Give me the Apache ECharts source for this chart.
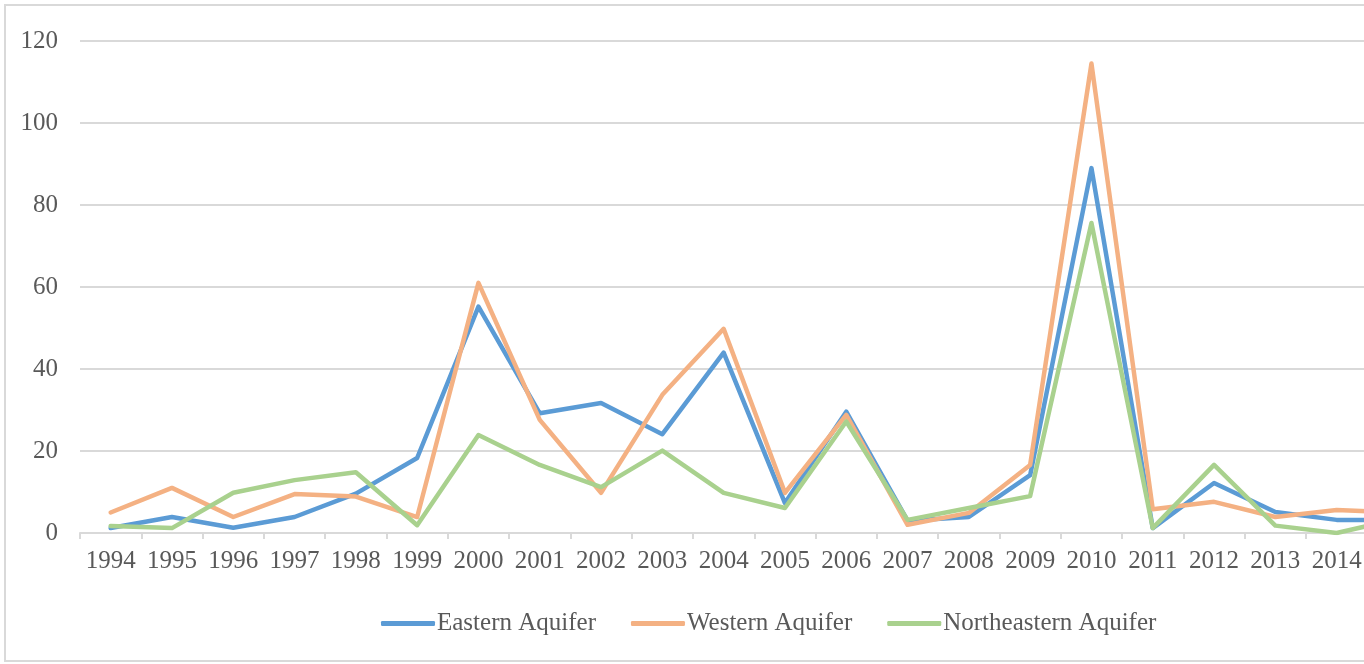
<!DOCTYPE html>
<html>
<head>
<meta charset="utf-8">
<title>Aquifer chart</title>
<script src="https://cdn.jsdelivr.net/npm/echarts@6/dist/echarts.min.js"></script>
<style>
html, body {
    margin: 0;
    padding: 0;
    overflow: hidden;
    background: #fff;
}
.com-chart {
    width: 1540px;
    height: 664px;
}
</style>
</head>
<body>
<div class="com-chart" id="chart_ref"></div>
<script>
// years on the x axis (the chart runs on past the right edge of the picture)
const years = ['1994', '1995', '1996', '1997', '1998', '1999', '2000', '2001', '2002', '2003', '2004',
    '2005', '2006', '2007', '2008', '2009', '2010', '2011', '2012', '2013', '2014', '2015'];
const eastern = [1.2, 3.9, 1.3, 3.9, 9.6, 18.3, 55.2, 29.2, 31.7, 24.1, 44.0,
    7.3, 29.6, 3.0, 3.9, 14.1, 89.0, 1.2, 12.2, 5.1, 3.2, 3.2];
const western = [5.0, 11.0, 3.9, 9.5, 8.9, 3.9, 61.0, 27.6, 9.8, 33.7, 49.8,
    9.8, 28.8, 2.0, 4.9, 16.6, 114.5, 5.8, 7.6, 3.9, 5.6, 5.0];
const northeastern = [1.7, 1.2, 9.8, 12.9, 14.8, 1.9, 23.9, 16.6, 11.2, 20.1, 9.8,
    6.1, 27.2, 3.2, 6.1, 9.0, 75.6, 1.2, 16.6, 1.8, 0.0, 3.4];
const seriesNames = ['Eastern Aquifer', 'Western Aquifer', 'Northeastern Aquifer'];
const colorArr = ['#5B9BD5', '#F4B183', '#A9D18E'];

const textColor = '#595959';
const gridColor = '#d9d9d9';
const fontFamily = '"Liberation Serif", "DejaVu Serif", serif';

function lineSeries(name, data, color) {
    return {
        name: name,
        type: 'line',
        data: data,
        symbol: 'none',
        showSymbol: false,
        animation: false,
        lineStyle: {
            color: color,
            width: 4.5,
            cap: 'round',
            join: 'round'
        },
        itemStyle: {
            color: color
        }
    };
}

const chartInstance = echarts.init(document.getElementById('chart_ref'));
const option = {
    animation: false,
    textStyle: {
        fontFamily: fontFamily
    },
    graphic: [
        {
            // outer chart border
            type: 'rect',
            shape: { x: 5, y: 5, width: 1600, height: 656 },
            style: { fill: 'none', stroke: gridColor, lineWidth: 2 },
            silent: true
        }
    ],
    legend: {
        left: 376,
        top: 606,
        itemWidth: 54,
        itemHeight: 5,
        itemGap: 35,
        icon: 'roundRect',
        textStyle: {
            color: textColor,
            fontSize: 25,
            fontFamily: fontFamily,
            padding: [0, 0, 0, -3]
        },
        data: seriesNames
    },
    grid: {
        left: 80,
        top: 41,
        width: 61.3 * years.length,
        height: 492,
        containLabel: false
    },
    xAxis: {
        type: 'category',
        data: years,
        boundaryGap: true,
        axisLine: {
            lineStyle: { color: gridColor, width: 2 }
        },
        axisTick: {
            show: true,
            length: 6,
            lineStyle: { color: gridColor, width: 2 }
        },
        axisLabel: {
            color: textColor,
            fontSize: 25,
            fontFamily: fontFamily,
            margin: 16,
            interval: 0
        },
        splitLine: { show: false }
    },
    yAxis: {
        type: 'value',
        min: 0,
        max: 120,
        interval: 20,
        axisLine: { show: false },
        axisTick: { show: false },
        axisLabel: {
            color: textColor,
            fontSize: 25,
            fontFamily: fontFamily,
            margin: 22
        },
        splitLine: {
            lineStyle: { color: gridColor, width: 2 }
        }
    },
    series: [
        lineSeries(seriesNames[0], eastern, colorArr[0]),
        lineSeries(seriesNames[1], western, colorArr[1]),
        lineSeries(seriesNames[2], northeastern, colorArr[2])
    ]
};
chartInstance.setOption(option);
</script>
</body>
</html>
